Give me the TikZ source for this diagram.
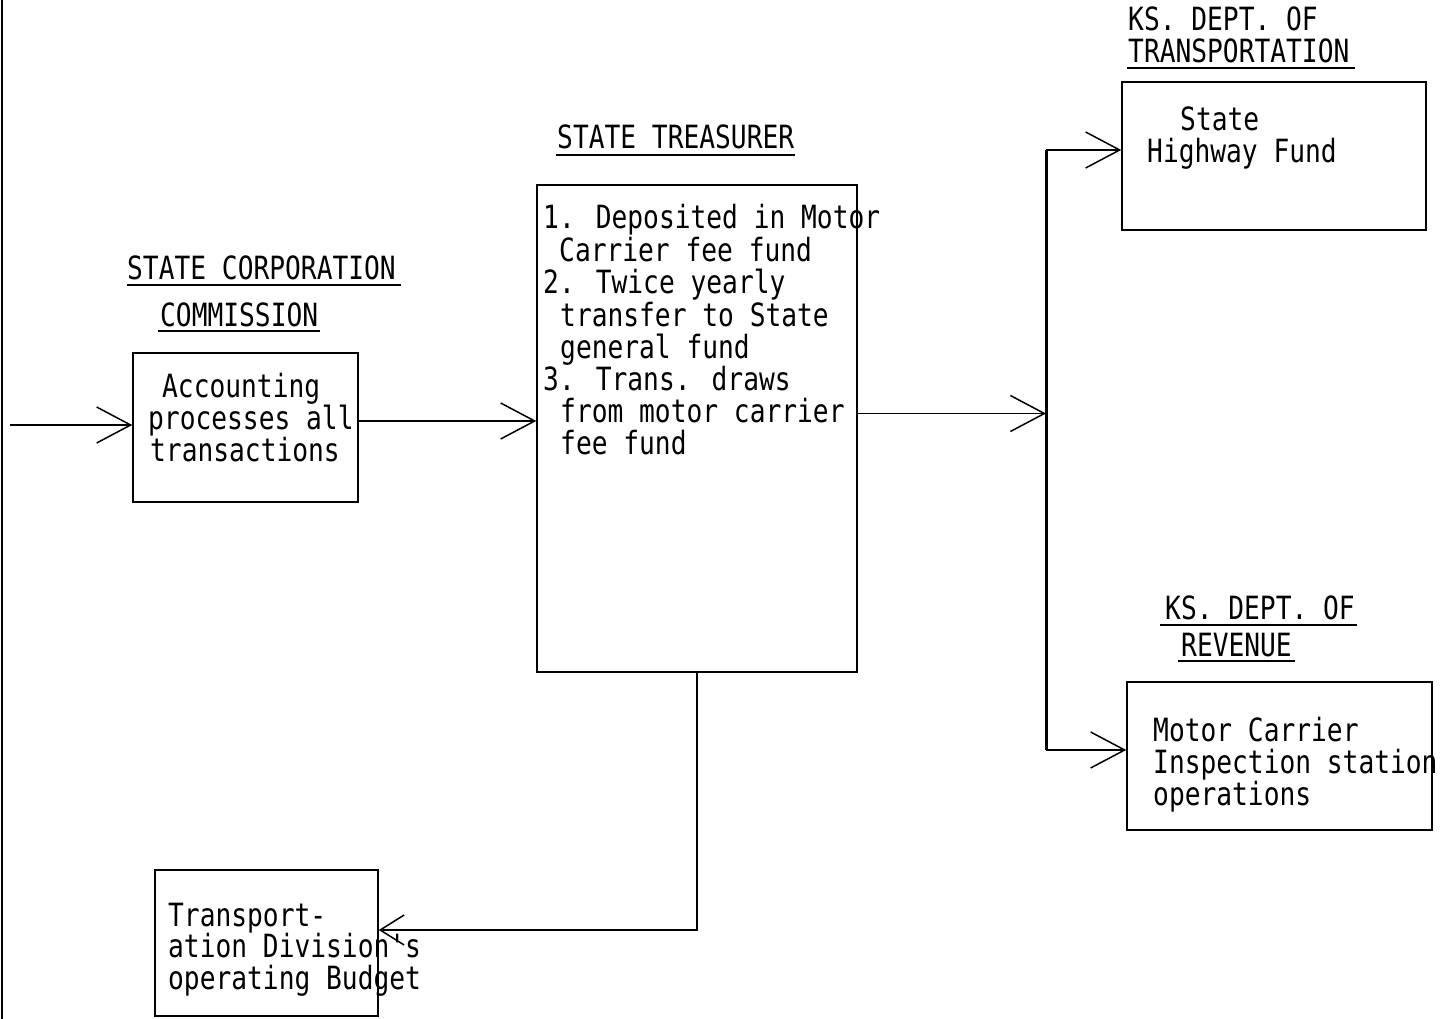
\documentclass[tikz,border=0pt]{standalone}
\usepackage{fontspec}
\newfontfamily\twfont[FakeStretch=0.82]{DejaVu Sans Mono}
\usetikzlibrary{arrows.meta}
\begin{document}
\begin{tikzpicture}[x=1pt,y=-1pt,
  txt/.style={inner sep=0pt,anchor=base west,font=\twfont\fontsize{32}{32}\selectfont},
  boxnode/.style={draw,line width=1.5pt,inner sep=0pt},
  conn/.style={line width=1.5pt},
  arr/.style={conn,-{Straight Barb[length=34pt,width=36pt,line width=1.5pt]}},
  arrsmall/.style={conn,-{Straight Barb[length=24pt,width=30pt,line width=1.5pt]}},
  uline/.style={line width=1.5pt},
  bus/.style={line width=3pt}]
\useasboundingbox (0,0) rectangle (1445,1019);
\fill[white] (0,0) rectangle (1445,1019);
% left margin line
\draw[line width=1.5pt] (2,0) -- (2,1019);

% boxes
\node[boxnode,minimum width=225pt,minimum height=149pt] (scc) at (245.5,427.5) {};
\node[boxnode,minimum width=320pt,minimum height=487pt] (tre) at (697,428.5) {};
\node[boxnode,minimum width=304pt,minimum height=148pt] (hw) at (1274,156) {};
\node[boxnode,minimum width=305pt,minimum height=148pt] (rev) at (1279.5,756) {};
\node[boxnode,minimum width=223pt,minimum height=146pt] (bud) at (266.5,943) {};

% headings
\node[txt] (h1) at (127,279) {STATE CORPORATION};
\draw[uline] (127,285) -- (401,285);
\node[txt] (h2) at (160,326) {COMMISSION};
\draw[uline] (158,331) -- (320,331);
\node[txt] (h3) at (557,149) {STATE TREASURER};
\draw[uline] (556,155) -- (795,155);
\node[txt] (h4) at (1128,31) {KS. DEPT. OF};
\node[txt] (h5) at (1128,63) {TRANSPORTATION};
\draw[uline] (1127,68) -- (1355,68);
\node[txt] (h6) at (1165,619) {KS. DEPT. OF};
\draw[uline] (1160,625) -- (1357,625);
\node[txt] (h7) at (1181,656) {REVENUE};
\draw[uline] (1178,661) -- (1295,661);

% SCC box text
\node[txt] (s1) at (162,397) {Accounting};
\node[txt] (s2) at (148,429) {processes all};
\node[txt] (s3) at (150,461) {transactions};

% Treasurer box text
\node[txt] (t1) at (543,229) {1. Deposited in Motor};
\node[txt] (t2) at (559,261) {Carrier fee fund};
\node[txt] (t3) at (543,293) {2. Twice yearly};
\node[txt] (t4) at (560,326) {transfer to State};
\node[txt] (t5) at (560,358) {general fund};
\node[txt] (t6) at (543,390) {3. Trans. draws};
\node[txt] (t7) at (560,422) {from motor carrier};
\node[txt] (t8) at (560,454) {fee fund};

% Highway box text
\node[txt] (w1) at (1180,131) {State};
\node[txt] (w2) at (1147,163) {Highway Fund};

% Revenue box text
\node[txt] (r1) at (1153,741) {Motor Carrier};
\node[txt] (r2) at (1153,773) {Inspection station};
\node[txt] (r3) at (1153,805) {operations};

% Budget box text
\node[txt] (b1) at (168,926) {Transport-};
\node[txt] (b2) at (168,957) {ation Division's};
\node[txt] (b3) at (168,989) {operating Budget};

% connectors
\coordinate (in) at (10,425);
\draw[arr] (in) -- (in -| scc.west);
\draw[arr] ([yshift=6.5pt]scc.east) -- ([yshift=6.5pt]scc.east -| tre.west);
\coordinate (bt) at (1046,150);
\coordinate (bb) at (1046,750);
\draw[bus] (bt) -- (bb);
\draw[arr] ([yshift=15pt]tre.east) -- ([yshift=15pt]tre.east -| bt);
\draw[arr] (bt) -- (bt -| hw.west);
\draw[arr] (bb) -- (bb -| rev.west);
\coordinate (c1) at (697,930);
\draw[arrsmall] (tre.south) -- (c1) -- (c1 -| bud.east);
\end{tikzpicture}
\end{document}
